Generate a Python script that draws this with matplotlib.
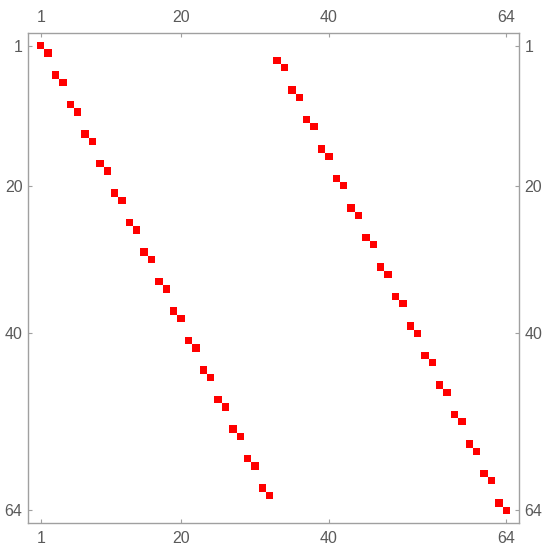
import numpy as np
import matplotlib
matplotlib.use("Agg")
import matplotlib.pyplot as plt
from matplotlib.colors import ListedColormap

# Column index (1..64) and row index of each nonzero entry
cols = list(range(1, 65))
rows = [1, 2, 5, 6, 9, 10, 13, 14, 17, 18, 21, 22, 25, 26, 29, 30,
        33, 34, 37, 38, 41, 42, 45, 46, 49, 50, 53, 54, 57, 58, 61, 62,
        3, 4, 7, 8, 11, 12, 15, 16, 19, 20, 23, 24, 27, 28, 31, 32,
        35, 36, 39, 40, 43, 44, 47, 48, 51, 52, 55, 56, 59, 60, 63, 64]
tick_vals = [1, 20, 40, 64]
tick_labels = ["1", "20", "40", "64"]
n = 64

M = np.zeros((n, n))
for c, r in zip(cols, rows):
    M[r - 1, c - 1] = 1

plt.rcParams['font.family'] = ['Liberation Sans', 'DejaVu Sans']
fig = plt.figure(figsize=(5.47, 5.50), dpi=100)
ax = fig.add_axes([28 / 547, 27 / 550, 491 / 547, 490 / 550])
cmap = ListedColormap(["white", "#ff0000"])
ax.imshow(M, cmap=cmap, vmin=0, vmax=1, interpolation="nearest",
          extent=(0.5, n + 0.5, n + 0.5, 0.5), aspect="auto")
pad = 1.27
ax.set_xlim(0.5 - pad, n + 0.5 + pad)
ax.set_ylim(n + 0.5 + pad, 0.5 - pad)

edge = "#a0a0a0"
for s in ax.spines.values():
    s.set_color(edge)
    s.set_linewidth(1.0)
ax.set_xticks(tick_vals)
ax.set_xticklabels(tick_labels)
ax.set_yticks(tick_vals)
ax.set_yticklabels(tick_labels)
ax.tick_params(axis="both", which="both", direction="in", length=3, width=0.8,
               color=edge, labelcolor="#5a5a5a", labelsize=11.5,
               top=True, bottom=True, left=True, right=True,
               labeltop=True, labelbottom=True, labelleft=True, labelright=True)
ax.tick_params(axis="x", pad=6)
ax.tick_params(axis="y", pad=4)

fig.savefig("out.png", dpi=100, facecolor="white")
